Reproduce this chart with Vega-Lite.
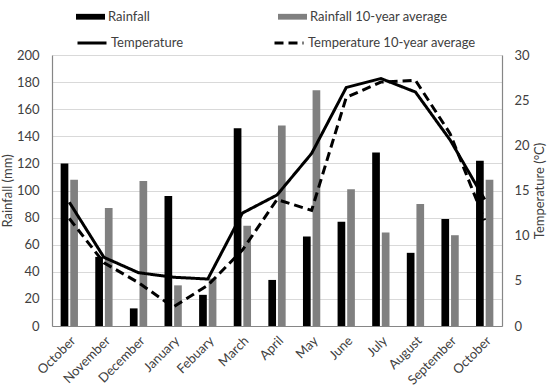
{
  "$schema": "https://vega.github.io/schema/vega-lite/v6.json",
  "width": 450,
  "height": 271,
  "autosize": {"type": "none"},
  "padding": {"left": 52, "top": 55, "right": 48, "bottom": 65},
  "config": {
    "font": "Lato",
    "view": {"stroke": null},
    "axis": {
      "labelFont": "Lato", "titleFont": "Lato",
      "labelFontSize": 13, "titleFontSize": 13,
      "labelColor": "#404040", "titleColor": "#404040",
      "titleFontWeight": "normal",
      "domainColor": "#868686", "domainWidth": 1.2,
      "ticks": false, "tickSize": 0,
      "gridColor": "#d9d9d9", "gridWidth": 1
    },
    "legend": {
      "labelFont": "Lato", "labelFontSize": 13, "labelColor": "#404040",
      "padding": 0, "labelOffset": 3, "labelLimit": 300
    }
  },
  "data": {
    "values": [
      {"month": "October", "Rainfall": 120, "Rainfall 10-year average": 108, "Temperature": 13.7, "Temperature 10-year average": 11.9},
      {"month": "November", "Rainfall": 51, "Rainfall 10-year average": 87, "Temperature": 7.6, "Temperature 10-year average": 7.0},
      {"month": "December", "Rainfall": 13, "Rainfall 10-year average": 107, "Temperature": 5.9, "Temperature 10-year average": 4.8},
      {"month": "January", "Rainfall": 96, "Rainfall 10-year average": 30, "Temperature": 5.4, "Temperature 10-year average": 2.1},
      {"month": "Febuary", "Rainfall": 23, "Rainfall 10-year average": 35, "Temperature": 5.2, "Temperature 10-year average": 4.5},
      {"month": "March", "Rainfall": 146, "Rainfall 10-year average": 74, "Temperature": 12.5, "Temperature 10-year average": 8.4},
      {"month": "April", "Rainfall": 34, "Rainfall 10-year average": 148, "Temperature": 14.5, "Temperature 10-year average": 14.0},
      {"month": "May", "Rainfall": 66, "Rainfall 10-year average": 174, "Temperature": 19.1, "Temperature 10-year average": 12.8},
      {"month": "June", "Rainfall": 77, "Rainfall 10-year average": 101, "Temperature": 26.4, "Temperature 10-year average": 25.3},
      {"month": "July", "Rainfall": 128, "Rainfall 10-year average": 69, "Temperature": 27.4, "Temperature 10-year average": 27.0},
      {"month": "August", "Rainfall": 54, "Rainfall 10-year average": 90, "Temperature": 25.9, "Temperature 10-year average": 27.2},
      {"month": "September", "Rainfall": 79, "Rainfall 10-year average": 67, "Temperature": 20.6, "Temperature 10-year average": 21.3},
      {"month": "October ", "Rainfall": 122, "Rainfall 10-year average": 108, "Temperature": 14.0, "Temperature 10-year average": 11.7}
    ]
  },
  "layer": [
    {
      "transform": [{"fold": ["Rainfall", "Rainfall 10-year average"], "as": ["series", "value"]}],
      "mark": {"type": "bar"},
      "encoding": {
        "x": {
          "field": "month", "type": "nominal",
          "scale": {
            "domain": ["October", "November", "December", "January", "Febuary", "March", "April", "May", "June", "July", "August", "September", "October "],
            "paddingInner": 0.5, "paddingOuter": 0.25
          },
          "axis": {"title": null, "labelAngle": -45, "labelPadding": 8, "labelExpr": "trim(datum.label)", "grid": false}
        },
        "xOffset": {"field": "series", "type": "nominal", "scale": {"paddingInner": 0.2}},
        "y": {
          "field": "value", "type": "quantitative",
          "scale": {"domain": [0, 200], "nice": false},
          "axis": {"title": "Rainfall (mm)", "values": [0, 20, 40, 60, 80, 100, 120, 140, 160, 180, 200], "grid": true, "labelPadding": 13, "titlePadding": 2}
        },
        "color": {
          "field": "series", "type": "nominal",
          "scale": {"domain": ["Rainfall", "Rainfall 10-year average"], "range": ["#000000", "#808080"]},
          "legend": {
            "title": null, "orient": "none", "legendX": 24, "legendY": -53,
            "direction": "horizontal", "columns": 2, "columnPadding": 128, "gridAlign": "each",
            "symbolType": "M-1,-0.2H1V0.2H-1Z", "symbolSize": 841, "symbolStrokeWidth": 0
          }
        }
      }
    },
    {
      "transform": [{"fold": ["Temperature", "Temperature 10-year average"], "as": ["tseries", "tvalue"]}],
      "mark": {"type": "line", "color": "#000000", "strokeWidth": 3},
      "encoding": {
        "x": {"field": "month", "type": "nominal"},
        "y": {
          "field": "tvalue", "type": "quantitative",
          "scale": {"domain": [0, 30], "nice": false},
          "axis": {"orient": "right", "title": "Temperature (°C)", "titleAngle": -90, "titleBaseline": "top", "values": [0, 5, 10, 15, 20, 25, 30], "grid": false, "labelPadding": 12, "titlePadding": 4}
        },
        "strokeDash": {
          "field": "tseries", "type": "nominal",
          "scale": {"domain": ["Temperature", "Temperature 10-year average"], "range": [[1, 0], [9, 5]]},
          "legend": {
            "title": null, "orient": "none", "legendX": 24, "legendY": -28,
            "direction": "horizontal", "columns": 2, "columnPadding": 84, "gridAlign": "each",
            "symbolType": "stroke", "symbolSize": 841, "symbolStrokeWidth": 3, "symbolStrokeColor": "#000000"
          }
        }
      }
    }
  ],
  "resolve": {"scale": {"y": "independent"}}
}
